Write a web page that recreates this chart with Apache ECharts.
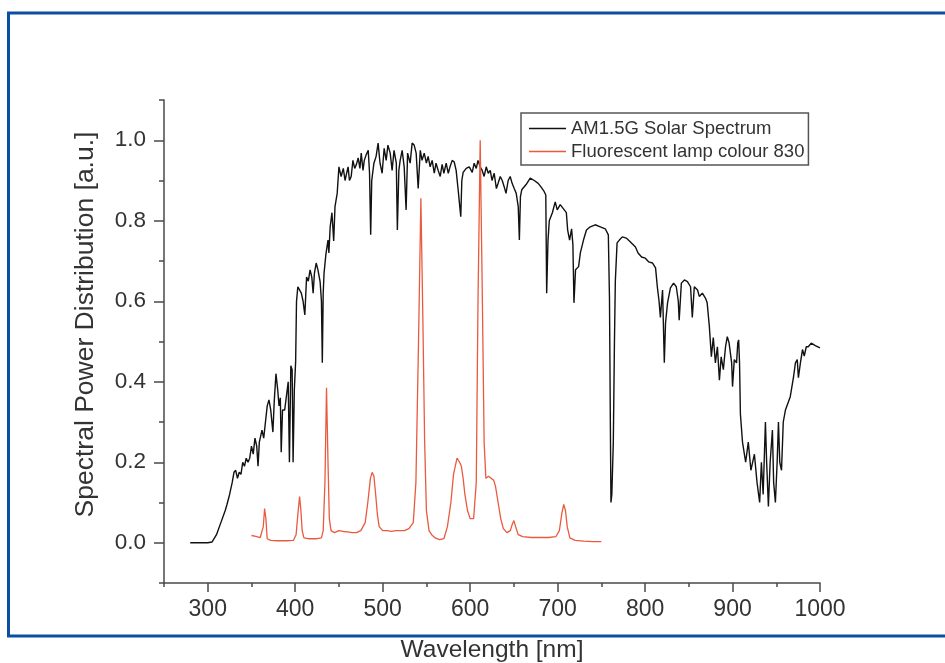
<html>
<head>
    <meta charset="utf-8">
    <title>Spectral power distribution</title>
    <style type="text/css">
        body { margin: 0; background: #fff; }
        #chart { width: 945px; height: 663px; }
    </style>
</head>
<body>
    <div id="chart"></div>
</body>
</html>

<script src="https://cdn.jsdelivr.net/npm/echarts@6/dist/echarts.min.js"></script>
<script>

    // AM1.5G solar spectrum
    var solarWl = [
        280, 300, 305, 310, 315, 320, 322, 325, 328, 330, 332, 334, 336, 338, 340, 342, 344, 346, 348, 350,
        352, 354, 356, 357.5, 359, 361, 362, 364, 366, 368, 370, 372, 374.5, 376, 378, 380, 381.5, 383, 384, 385.5,
        388, 390, 392, 393.4, 395, 396.5, 397.6, 399, 400.5, 401.5, 403, 405, 407, 409, 411, 413, 415, 417, 419, 420.5,
        422, 424, 426, 428.5, 430, 431, 432, 433, 435, 437.5, 438.5, 440, 442, 444, 445.5, 448, 450, 452.5, 455, 457,
        459, 460.5, 462, 464, 466, 468, 470, 472, 474, 475.5, 477.5, 479, 481, 483.5, 485, 486.3, 487.5, 490, 492.5, 494.8,
        497, 499.4, 501.7, 504, 506, 508.6, 510.8, 513, 515.6, 516.8, 518.5, 520, 522.3, 524.6, 526.8, 528.5, 531.4, 533.7, 536, 538.3,
        540.6, 543, 545, 547.5, 550, 552, 554.3, 556.6, 559, 561, 563.5, 565.8, 568, 570, 572.6, 575, 577, 579.5, 581.8, 584,
        586.3, 587.5, 589.3, 590.5, 592, 595.5, 599, 602.4, 604.6, 607, 609, 611.5, 613.8, 616, 618.4, 620.7, 623, 625, 627.5, 630,
        632, 634.4, 636.7, 639, 641, 643.5, 645.8, 648, 650.4, 652.7, 655, 656.3, 657.5, 659, 661, 664, 668.7, 673.3, 677.8, 681,
        684, 686.5, 687.5, 689, 690.5, 694, 697.3, 699.6, 703, 706.5, 710, 711.5, 713.7, 716, 717.5, 718.7, 720.5, 724, 726, 729.6,
        733, 737.4, 743, 748.8, 754.5, 758, 759.3, 760.3, 761, 762, 763.7, 765, 766, 768, 770.6, 774, 778.5, 783, 789, 792,
        796, 800.3, 804, 808.6, 812, 814, 816, 817.5, 820, 822, 823.4, 825.7, 829, 832.6, 835.7, 838, 839, 841.5, 845, 848.4,
        852, 854, 856.3, 860, 862, 865.5, 869, 871, 873.5, 875.8, 878, 880.4, 882.7, 885, 887, 889.5, 892, 894, 896, 899,
        900, 902, 904.6, 906, 907, 908, 909, 911.4, 915, 918, 921, 925, 928, 931, 933, 935, 937.6, 939, 941, 943,
        945.6, 947, 949, 951, 952.5, 954, 956, 958, 960.5, 962.4, 966, 969.6, 971.9, 974, 975.3, 977.6, 980, 982, 984.3, 986.6,
        990, 994.6, 1000
    ];
    var solarVal = [
        0, 0, 0.002, 0.02, 0.05, 0.08, 0.095, 0.12, 0.15, 0.175, 0.18, 0.16, 0.175, 0.17, 0.2, 0.19, 0.21, 0.2, 0.21, 0.24,
        0.22, 0.26, 0.24, 0.19, 0.25, 0.27, 0.28, 0.26, 0.3, 0.34, 0.355, 0.33, 0.275, 0.35, 0.42, 0.38, 0.34, 0.36, 0.225, 0.33,
        0.33, 0.33, 0.4, 0.2, 0.44, 0.43, 0.2, 0.38, 0.45, 0.6, 0.636, 0.64, 0.62, 0.6, 0.566, 0.66, 0.65, 0.678, 0.66, 0.62,
        0.67, 0.695, 0.678, 0.648, 0.6, 0.447, 0.62, 0.67, 0.715, 0.752, 0.72, 0.785, 0.82, 0.75, 0.835, 0.868, 0.934, 0.91, 0.93, 0.9,
        0.92, 0.934, 0.9, 0.91, 0.95, 0.93, 0.94, 0.956, 0.93, 0.968, 0.925, 0.95, 0.963, 0.975, 0.918, 0.765, 0.9, 0.943, 0.96, 0.993,
        0.943, 0.918, 0.98, 0.95, 0.988, 0.968, 0.925, 0.975, 0.943, 0.777, 0.925, 0.95, 0.975, 0.934, 0.827, 0.968, 0.943, 0.993, 0.988, 0.968,
        0.88, 0.975, 0.95, 0.968, 0.943, 0.96, 0.934, 0.95, 0.918, 0.943, 0.925, 0.91, 0.94, 0.918, 0.943, 0.918, 0.934, 0.95, 0.946, 0.925,
        0.877, 0.85, 0.81, 0.9, 0.92, 0.93, 0.934, 0.92, 0.943, 0.93, 0.95, 0.934, 0.925, 0.91, 0.934, 0.918, 0.925, 0.9, 0.918, 0.88,
        0.893, 0.91, 0.9, 0.884, 0.868, 0.9, 0.91, 0.893, 0.88, 0.868, 0.835, 0.752, 0.86, 0.877, 0.88, 0.89, 0.906, 0.9, 0.893, 0.884,
        0.875, 0.864, 0.62, 0.75, 0.8, 0.82, 0.847, 0.827, 0.84, 0.83, 0.82, 0.777, 0.752, 0.78, 0.74, 0.596, 0.678, 0.686, 0.72, 0.752,
        0.777, 0.785, 0.79, 0.785, 0.78, 0.765, 0.61, 0.3, 0.1, 0.12, 0.25, 0.5, 0.65, 0.745, 0.752, 0.76, 0.757, 0.748, 0.735, 0.72,
        0.71, 0.707, 0.698, 0.695, 0.683, 0.636, 0.6, 0.56, 0.628, 0.447, 0.546, 0.596, 0.633, 0.645, 0.636, 0.6, 0.553, 0.645, 0.653, 0.649,
        0.636, 0.56, 0.636, 0.628, 0.612, 0.62, 0.608, 0.596, 0.537, 0.462, 0.51, 0.447, 0.487, 0.404, 0.462, 0.43, 0.487, 0.512, 0.497, 0.447,
        0.388, 0.455, 0.447, 0.497, 0.504, 0.447, 0.32, 0.25, 0.2, 0.25, 0.18, 0.22, 0.15, 0.1, 0.2, 0.12, 0.3, 0.2, 0.09, 0.2,
        0.28, 0.15, 0.1, 0.2, 0.3, 0.2, 0.18, 0.3, 0.33, 0.33, 0.363, 0.41, 0.447, 0.455, 0.41, 0.447, 0.48, 0.464, 0.487, 0.487,
        0.496, 0.49, 0.484
    ];

    // Fluorescent lamp colour 830
    var lampWl = [
        350, 355, 360, 362, 363.5, 365, 366.5, 368, 372, 380, 390, 398, 401, 403, 405, 406.5, 408, 410, 415, 425,
        430, 432, 434, 435.8, 437.5, 439, 441, 445, 450, 455, 460, 465, 470, 475, 480, 483, 486, 488, 490, 492,
        494, 496, 500, 505, 510, 515, 520, 525, 530, 535, 538, 541, 543.7, 546, 548, 550, 553, 556, 560, 565,
        570, 574, 578, 581, 585, 588, 590, 592, 594, 597, 600, 604, 607, 609, 611.5, 614, 616, 618, 621, 624,
        627, 629, 632, 635, 638, 642, 646, 648, 650, 652, 655, 660, 670, 680, 690, 698, 702, 705, 707, 709,
        711, 714, 720, 730, 740, 750
    ];
    var lampVal = [
        0.018, 0.016, 0.013, 0.013, 0.04, 0.085, 0.06, 0.01, 0.006, 0.005, 0.005, 0.006, 0.02, 0.07, 0.115, 0.08, 0.03, 0.012, 0.01, 0.01,
        0.012, 0.03, 0.15, 0.385, 0.2, 0.06, 0.03, 0.025, 0.03, 0.028, 0.027, 0.025, 0.025, 0.03, 0.05, 0.1, 0.16, 0.175, 0.165, 0.12,
        0.07, 0.04, 0.03, 0.03, 0.028, 0.03, 0.03, 0.03, 0.035, 0.05, 0.15, 0.5, 0.856, 0.55, 0.25, 0.08, 0.03, 0.02, 0.012, 0.008,
        0.01, 0.04, 0.1, 0.17, 0.21, 0.2, 0.19, 0.16, 0.12, 0.08, 0.06, 0.06, 0.15, 0.6, 1.0, 0.6, 0.25, 0.16, 0.165, 0.16,
        0.155, 0.14, 0.1, 0.06, 0.035, 0.025, 0.03, 0.045, 0.055, 0.04, 0.02, 0.015, 0.013, 0.013, 0.013, 0.015, 0.03, 0.075, 0.095, 0.08,
        0.04, 0.012, 0.006, 0.004, 0.003, 0.003
    ];

    var xMajorTicks = { min: 300, max: 1000, step: 100 };
    var yMajorTicks = { min: 0, max: 1, step: 0.2 };

    function pairs(xs, ys) {
        var out = [];
        for (var i = 0; i < xs.length; i++) {
            out.push([xs[i], ys[i]]);
        }
        return out;
    }

    var font = '"Liberation Sans", Arial, sans-serif';
    var axisColor = '#4a4a4a';
    var textColor = '#333';

    // plot area in pixels
    var plotLeft = 164, plotRight = 820, plotTop = 100, plotBottom = 583;
    var xMin = 250, xMax = 1000, yMin = -0.1, yMax = 1.1;
    var pxPerNm = (plotRight - plotLeft) / (xMax - xMin);
    var pxPerUnit = (plotBottom - plotTop) / (yMax - yMin);

    var option = {
        animation: false,
        backgroundColor: '#fff',
        textStyle: { fontFamily: font },
        graphic: [{
            type: 'rect',
            shape: { x: 8.5, y: 13, width: 960, height: 623 },
            style: { fill: 'none', stroke: '#0b4ea2', lineWidth: 3 },
            silent: true
        }],
        legend: {
            left: 521,
            top: 113,
            orient: 'vertical',
            borderColor: '#555',
            borderWidth: 1.5,
            padding: [6, 4, 4, 8],
            itemGap: 4,
            itemWidth: 37,
            itemHeight: 1.5,
            icon: 'rect',
            textStyle: { fontSize: 18.5, color: textColor, fontFamily: font },
            data: ['AM1.5G Solar Spectrum', 'Fluorescent lamp colour 830']
        },
        grid: [
            {
                left: plotLeft, right: 945 - plotRight, top: plotTop, bottom: 663 - plotBottom,
                outerBoundsMode: 'none'
            },
            {
                left: plotLeft, right: 945 - plotRight,
                top: plotBottom - (yMajorTicks.max - yMin) * pxPerUnit,
                bottom: 663 - (plotBottom - (yMajorTicks.min - yMin) * pxPerUnit),
                outerBoundsMode: 'none'
            },
            {
                left: plotLeft + (xMajorTicks.min - xMin) * pxPerNm, right: 945 - plotRight,
                top: plotTop, bottom: 663 - plotBottom,
                outerBoundsMode: 'none'
            }
        ],
        xAxis: [{
            gridIndex: 0,
            type: 'value',
            min: xMin,
            max: xMax,
            interval: 50,
            name: 'Wavelength [nm]',
            nameLocation: 'middle',
            nameGap: 55,
            nameTextStyle: { fontSize: 24.5, color: textColor, fontFamily: font },
            axisLine: { onZero: false, lineStyle: { color: axisColor, width: 1.5 } },
            axisTick: { length: 4, lineStyle: { color: axisColor, width: 1.5 } },
            axisLabel: { show: false },
            splitLine: { show: false }
        }, {
            gridIndex: 1,
            type: 'value',
            min: 0,
            max: 1,
            show: false
        }, {
            gridIndex: 2,
            type: 'value',
            min: xMajorTicks.min,
            max: xMajorTicks.max,
            interval: xMajorTicks.step,
            axisLine: { show: false, onZero: false },
            axisTick: { length: 9, lineStyle: { color: axisColor, width: 1.5 } },
            axisLabel: {
                margin: 15, fontSize: 23, color: textColor, fontFamily: font,
                formatter: function (v) { return String(v); }
            },
            splitLine: { show: false }
        }],
        yAxis: [{
            gridIndex: 0,
            type: 'value',
            min: yMin,
            max: yMax,
            interval: 0.1,
            name: 'Spectral Power Distribution [a.u.]',
            nameLocation: 'middle',
            nameGap: 65,
            nameTextStyle: { fontSize: 26.5, color: textColor, fontFamily: font, padding: [0, 0, 0, 34] },
            axisLine: { show: true, onZero: false, lineStyle: { color: axisColor, width: 1.5 } },
            axisTick: { length: 5, lineStyle: { color: axisColor, width: 1.5 } },
            axisLabel: { show: false },
            splitLine: { show: false }
        }, {
            gridIndex: 1,
            type: 'value',
            min: yMajorTicks.min,
            max: yMajorTicks.max,
            interval: yMajorTicks.step,
            axisLine: { show: false, onZero: false },
            axisTick: { length: 10, lineStyle: { color: axisColor, width: 1.5 } },
            axisLabel: {
                margin: 18, fontSize: 22.5, color: textColor, fontFamily: font,
                formatter: function (v) { return v.toFixed(1); }
            },
            splitLine: { show: false }
        }, {
            gridIndex: 2,
            type: 'value',
            min: 0,
            max: 1,
            show: false
        }],
        series: [{
            name: 'AM1.5G Solar Spectrum',
            type: 'line',
            xAxisIndex: 0,
            yAxisIndex: 0,
            showSymbol: false,
            color: '#111',
            lineStyle: { width: 1.4, color: '#111' },
            data: pairs(solarWl, solarVal)
        }, {
            name: 'Fluorescent lamp colour 830',
            type: 'line',
            xAxisIndex: 0,
            yAxisIndex: 0,
            showSymbol: false,
            color: '#ea5a3e',
            lineStyle: { width: 1.3, color: '#ea5a3e' },
            data: pairs(lampWl, lampVal)
        }]
    };

    var chart = echarts.init(document.getElementById('chart'));
    chart.setOption(option);

</script>
